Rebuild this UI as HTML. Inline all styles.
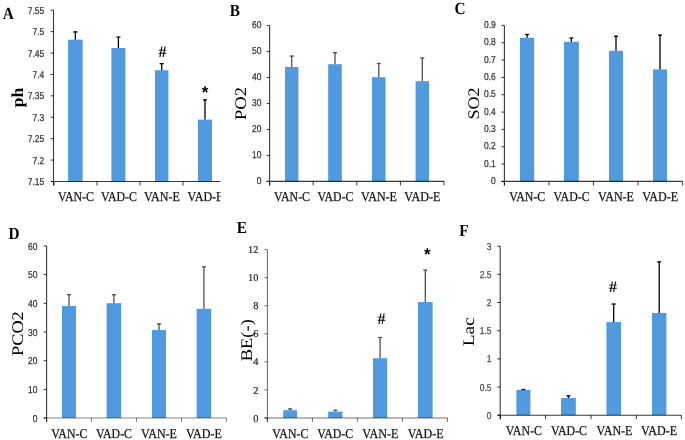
<!DOCTYPE html><html><head><meta charset="utf-8"><style>html,body{margin:0;padding:0;background:#fff;overflow:hidden;width:685px;height:440px;}svg{display:block;}text{filter:grayscale(1);}svg{text-rendering:geometricPrecision;}</style></head><body>
<svg width="685" height="440" viewBox="0 0 685 440">
<rect width="685" height="440" fill="#fff"/>
<defs><clipPath id="clipA"><rect x="0" y="0" width="220.4" height="220"/></clipPath></defs>
<text transform="translate(2.8000000000000003,19.4) scale(0.9,1)" font-family="Liberation Serif, serif" font-weight="bold" font-size="17" fill="#000">A</text>
<text transform="translate(17.4,97.6) rotate(-90)" x="0" y="0" dy="0.33em" text-anchor="middle" font-family="Liberation Serif, serif" font-weight="bold" font-size="16.8" textLength="19.8" lengthAdjust="spacingAndGlyphs" fill="#000">ph</text>
<line x1="50.5" y1="10.20" x2="53.5" y2="10.20" stroke="rgba(0,0,0,0.78)" stroke-width="1"/>
<text x="44.30" y="13.70" text-anchor="end" font-family="Liberation Sans, sans-serif" font-size="10" textLength="16.49" lengthAdjust="spacingAndGlyphs" fill="#333" stroke="#333" stroke-width="0.25">7.55</text>
<line x1="50.5" y1="31.61" x2="53.5" y2="31.61" stroke="rgba(0,0,0,0.78)" stroke-width="1"/>
<text x="44.30" y="35.11" text-anchor="end" font-family="Liberation Sans, sans-serif" font-size="10" textLength="11.77" lengthAdjust="spacingAndGlyphs" fill="#333" stroke="#333" stroke-width="0.25">7.5</text>
<line x1="50.5" y1="53.03" x2="53.5" y2="53.03" stroke="rgba(0,0,0,0.78)" stroke-width="1"/>
<text x="44.30" y="56.53" text-anchor="end" font-family="Liberation Sans, sans-serif" font-size="10" textLength="16.49" lengthAdjust="spacingAndGlyphs" fill="#333" stroke="#333" stroke-width="0.25">7.45</text>
<line x1="50.5" y1="74.44" x2="53.5" y2="74.44" stroke="rgba(0,0,0,0.78)" stroke-width="1"/>
<text x="44.30" y="77.94" text-anchor="end" font-family="Liberation Sans, sans-serif" font-size="10" textLength="11.77" lengthAdjust="spacingAndGlyphs" fill="#333" stroke="#333" stroke-width="0.25">7.4</text>
<line x1="50.5" y1="95.85" x2="53.5" y2="95.85" stroke="rgba(0,0,0,0.78)" stroke-width="1"/>
<text x="44.30" y="99.35" text-anchor="end" font-family="Liberation Sans, sans-serif" font-size="10" textLength="16.49" lengthAdjust="spacingAndGlyphs" fill="#333" stroke="#333" stroke-width="0.25">7.35</text>
<line x1="50.5" y1="117.26" x2="53.5" y2="117.26" stroke="rgba(0,0,0,0.78)" stroke-width="1"/>
<text x="44.30" y="120.76" text-anchor="end" font-family="Liberation Sans, sans-serif" font-size="10" textLength="11.77" lengthAdjust="spacingAndGlyphs" fill="#333" stroke="#333" stroke-width="0.25">7.3</text>
<line x1="50.5" y1="138.68" x2="53.5" y2="138.68" stroke="rgba(0,0,0,0.78)" stroke-width="1"/>
<text x="44.30" y="142.18" text-anchor="end" font-family="Liberation Sans, sans-serif" font-size="10" textLength="16.49" lengthAdjust="spacingAndGlyphs" fill="#333" stroke="#333" stroke-width="0.25">7.25</text>
<line x1="50.5" y1="160.09" x2="53.5" y2="160.09" stroke="rgba(0,0,0,0.78)" stroke-width="1"/>
<text x="44.30" y="163.59" text-anchor="end" font-family="Liberation Sans, sans-serif" font-size="10" textLength="11.77" lengthAdjust="spacingAndGlyphs" fill="#333" stroke="#333" stroke-width="0.25">7.2</text>
<line x1="50.5" y1="181.50" x2="53.5" y2="181.50" stroke="rgba(0,0,0,0.78)" stroke-width="1"/>
<text x="44.30" y="185.00" text-anchor="end" font-family="Liberation Sans, sans-serif" font-size="10" textLength="16.49" lengthAdjust="spacingAndGlyphs" fill="#333" stroke="#333" stroke-width="0.25">7.15</text>
<g clip-path="url(#clipA)">
<rect x="68.1" y="39.7" width="14.50" height="141.80" fill="rgb(81,154,223)"/>
<line x1="75.35" y1="39.7" x2="75.35" y2="31.5" stroke="black" stroke-width="1.3"/>
<line x1="73.35" y1="32.0" x2="77.35" y2="32.0" stroke="black" stroke-width="1.3"/>
<rect x="111.4" y="48" width="14.00" height="133.50" fill="rgb(81,154,223)"/>
<line x1="118.40" y1="48" x2="118.40" y2="36.6" stroke="black" stroke-width="1.3"/>
<line x1="116.40" y1="37.1" x2="120.40" y2="37.1" stroke="black" stroke-width="1.3"/>
<rect x="155" y="70.2" width="13.40" height="111.30" fill="rgb(81,154,223)"/>
<line x1="161.70" y1="70.2" x2="161.70" y2="63.2" stroke="black" stroke-width="1.3"/>
<line x1="159.70" y1="63.7" x2="163.70" y2="63.7" stroke="black" stroke-width="1.3"/>
<rect x="198" y="119.6" width="14.00" height="61.90" fill="rgb(81,154,223)"/>
<line x1="205.00" y1="119.6" x2="205.00" y2="99.4" stroke="black" stroke-width="1.3"/>
<line x1="203.00" y1="99.9" x2="207.00" y2="99.9" stroke="black" stroke-width="1.3"/>
<line x1="53.5" y1="10.2" x2="53.5" y2="185.5" stroke="rgba(0,0,0,0.78)" stroke-width="1.1"/>
<line x1="51" y1="181.5" x2="226" y2="181.5" stroke="rgba(0,0,0,0.78)" stroke-width="1.1"/>
<line x1="54" y1="181.5" x2="54" y2="185.5" stroke="rgba(0,0,0,0.78)" stroke-width="1"/>
<line x1="97" y1="181.5" x2="97" y2="185.5" stroke="rgba(0,0,0,0.78)" stroke-width="1"/>
<line x1="140" y1="181.5" x2="140" y2="185.5" stroke="rgba(0,0,0,0.78)" stroke-width="1"/>
<line x1="183" y1="181.5" x2="183" y2="185.5" stroke="rgba(0,0,0,0.78)" stroke-width="1"/>
<line x1="226" y1="181.5" x2="226" y2="185.5" stroke="rgba(0,0,0,0.78)" stroke-width="1"/>
<text x="75.9" y="201.2" text-anchor="middle" font-family="Liberation Serif, serif" font-size="13.5" textLength="36" lengthAdjust="spacingAndGlyphs" fill="#111" stroke="#111" stroke-width="0.25">VAN-C</text>
<text x="118.9" y="201.2" text-anchor="middle" font-family="Liberation Serif, serif" font-size="13.5" textLength="36" lengthAdjust="spacingAndGlyphs" fill="#111" stroke="#111" stroke-width="0.25">VAD-C</text>
<text x="161.9" y="201.2" text-anchor="middle" font-family="Liberation Serif, serif" font-size="13.5" textLength="36" lengthAdjust="spacingAndGlyphs" fill="#111" stroke="#111" stroke-width="0.25">VAN-E</text>
<text x="205.5" y="201.2" text-anchor="middle" font-family="Liberation Serif, serif" font-size="13.5" textLength="36" lengthAdjust="spacingAndGlyphs" fill="#111" stroke="#111" stroke-width="0.25">VAD-E</text>
<text x="162.5" y="56.6" text-anchor="middle" font-family="Liberation Serif, serif" font-weight="bold" font-size="16" fill="#000">#</text>
<text x="205.1" y="97.7" text-anchor="middle" font-family="Liberation Sans, sans-serif" font-weight="bold" font-size="17" fill="#000">*</text>
</g>
<text transform="translate(229.7,15.7) scale(0.9,1)" font-family="Liberation Serif, serif" font-weight="bold" font-size="17" fill="#000">B</text>
<text transform="translate(240.45,103.5) rotate(-90)" x="0" y="0" dy="0.33em" text-anchor="middle" font-family="Liberation Serif, serif" font-weight="normal" font-size="16.2" textLength="33" lengthAdjust="spacingAndGlyphs" fill="#000">PO2</text>
<line x1="266.6" y1="25.40" x2="269.6" y2="25.40" stroke="rgba(0,0,0,0.78)" stroke-width="1"/>
<text x="261.50" y="28.10" text-anchor="end" font-family="Liberation Sans, sans-serif" font-size="10" textLength="9.43" lengthAdjust="spacingAndGlyphs" fill="#333" stroke="#333" stroke-width="0.25">60</text>
<line x1="266.6" y1="51.40" x2="269.6" y2="51.40" stroke="rgba(0,0,0,0.78)" stroke-width="1"/>
<text x="261.50" y="54.10" text-anchor="end" font-family="Liberation Sans, sans-serif" font-size="10" textLength="9.43" lengthAdjust="spacingAndGlyphs" fill="#333" stroke="#333" stroke-width="0.25">50</text>
<line x1="266.6" y1="77.40" x2="269.6" y2="77.40" stroke="rgba(0,0,0,0.78)" stroke-width="1"/>
<text x="261.50" y="80.10" text-anchor="end" font-family="Liberation Sans, sans-serif" font-size="10" textLength="9.43" lengthAdjust="spacingAndGlyphs" fill="#333" stroke="#333" stroke-width="0.25">40</text>
<line x1="266.6" y1="103.40" x2="269.6" y2="103.40" stroke="rgba(0,0,0,0.78)" stroke-width="1"/>
<text x="261.50" y="106.10" text-anchor="end" font-family="Liberation Sans, sans-serif" font-size="10" textLength="9.43" lengthAdjust="spacingAndGlyphs" fill="#333" stroke="#333" stroke-width="0.25">30</text>
<line x1="266.6" y1="129.40" x2="269.6" y2="129.40" stroke="rgba(0,0,0,0.78)" stroke-width="1"/>
<text x="261.50" y="132.10" text-anchor="end" font-family="Liberation Sans, sans-serif" font-size="10" textLength="9.43" lengthAdjust="spacingAndGlyphs" fill="#333" stroke="#333" stroke-width="0.25">20</text>
<line x1="266.6" y1="155.40" x2="269.6" y2="155.40" stroke="rgba(0,0,0,0.78)" stroke-width="1"/>
<text x="261.50" y="158.10" text-anchor="end" font-family="Liberation Sans, sans-serif" font-size="10" textLength="9.43" lengthAdjust="spacingAndGlyphs" fill="#333" stroke="#333" stroke-width="0.25">10</text>
<line x1="266.6" y1="181.40" x2="269.6" y2="181.40" stroke="rgba(0,0,0,0.78)" stroke-width="1"/>
<text x="261.50" y="184.10" text-anchor="end" font-family="Liberation Sans, sans-serif" font-size="10" textLength="4.72" lengthAdjust="spacingAndGlyphs" fill="#333" stroke="#333" stroke-width="0.25">0</text>
<g>
<rect x="285" y="67" width="13.40" height="114.40" fill="rgb(81,154,223)"/>
<line x1="291.70" y1="67" x2="291.70" y2="55.6" stroke="#505050" stroke-width="1.3"/>
<line x1="289.70" y1="56.1" x2="293.70" y2="56.1" stroke="#505050" stroke-width="1.3"/>
<rect x="328.2" y="64.2" width="13.60" height="117.20" fill="rgb(81,154,223)"/>
<line x1="335.00" y1="64.2" x2="335.00" y2="52.2" stroke="#505050" stroke-width="1.3"/>
<line x1="333.00" y1="52.7" x2="337.00" y2="52.7" stroke="#505050" stroke-width="1.3"/>
<rect x="372" y="77.2" width="13.60" height="104.20" fill="rgb(81,154,223)"/>
<line x1="378.80" y1="77.2" x2="378.80" y2="63" stroke="#505050" stroke-width="1.3"/>
<line x1="376.80" y1="63.5" x2="380.80" y2="63.5" stroke="#505050" stroke-width="1.3"/>
<rect x="415.6" y="81.2" width="13.40" height="100.20" fill="rgb(81,154,223)"/>
<line x1="422.30" y1="81.2" x2="422.30" y2="57.6" stroke="#505050" stroke-width="1.3"/>
<line x1="420.30" y1="58.1" x2="424.30" y2="58.1" stroke="#505050" stroke-width="1.3"/>
<line x1="269.6" y1="25.4" x2="269.6" y2="185.4" stroke="rgba(0,0,0,0.78)" stroke-width="1.1"/>
<line x1="266.6" y1="181.4" x2="444" y2="181.4" stroke="rgba(0,0,0,0.78)" stroke-width="1.1"/>
<line x1="269.6" y1="181.4" x2="269.6" y2="185.4" stroke="rgba(0,0,0,0.78)" stroke-width="1"/>
<line x1="313.2" y1="181.4" x2="313.2" y2="185.4" stroke="rgba(0,0,0,0.78)" stroke-width="1"/>
<line x1="356.8" y1="181.4" x2="356.8" y2="185.4" stroke="rgba(0,0,0,0.78)" stroke-width="1"/>
<line x1="400.4" y1="181.4" x2="400.4" y2="185.4" stroke="rgba(0,0,0,0.78)" stroke-width="1"/>
<line x1="444" y1="181.4" x2="444" y2="185.4" stroke="rgba(0,0,0,0.78)" stroke-width="1"/>
<text x="292" y="201.2" text-anchor="middle" font-family="Liberation Serif, serif" font-size="13.5" textLength="36" lengthAdjust="spacingAndGlyphs" fill="#111" stroke="#111" stroke-width="0.25">VAN-C</text>
<text x="335.5" y="201.2" text-anchor="middle" font-family="Liberation Serif, serif" font-size="13.5" textLength="36" lengthAdjust="spacingAndGlyphs" fill="#111" stroke="#111" stroke-width="0.25">VAD-C</text>
<text x="379" y="201.2" text-anchor="middle" font-family="Liberation Serif, serif" font-size="13.5" textLength="36" lengthAdjust="spacingAndGlyphs" fill="#111" stroke="#111" stroke-width="0.25">VAN-E</text>
<text x="422.3" y="201.2" text-anchor="middle" font-family="Liberation Serif, serif" font-size="13.5" textLength="36" lengthAdjust="spacingAndGlyphs" fill="#111" stroke="#111" stroke-width="0.25">VAD-E</text>
</g>
<text transform="translate(454.59999999999997,14.0) scale(0.9,1)" font-family="Liberation Serif, serif" font-weight="bold" font-size="17" fill="#000">C</text>
<text transform="translate(473.3,103.6) rotate(-90)" x="0" y="0" dy="0.33em" text-anchor="middle" font-family="Liberation Serif, serif" font-weight="normal" font-size="16.2" textLength="32" lengthAdjust="spacingAndGlyphs" fill="#000">SO2</text>
<line x1="501.4" y1="25.40" x2="504.4" y2="25.40" stroke="rgba(0,0,0,0.78)" stroke-width="1"/>
<text x="495.80" y="28.10" text-anchor="end" font-family="Liberation Sans, sans-serif" font-size="10" textLength="11.77" lengthAdjust="spacingAndGlyphs" fill="#333" stroke="#333" stroke-width="0.25">0.9</text>
<line x1="501.4" y1="42.73" x2="504.4" y2="42.73" stroke="rgba(0,0,0,0.78)" stroke-width="1"/>
<text x="495.80" y="45.43" text-anchor="end" font-family="Liberation Sans, sans-serif" font-size="10" textLength="11.77" lengthAdjust="spacingAndGlyphs" fill="#333" stroke="#333" stroke-width="0.25">0.8</text>
<line x1="501.4" y1="60.07" x2="504.4" y2="60.07" stroke="rgba(0,0,0,0.78)" stroke-width="1"/>
<text x="495.80" y="62.77" text-anchor="end" font-family="Liberation Sans, sans-serif" font-size="10" textLength="11.77" lengthAdjust="spacingAndGlyphs" fill="#333" stroke="#333" stroke-width="0.25">0.7</text>
<line x1="501.4" y1="77.40" x2="504.4" y2="77.40" stroke="rgba(0,0,0,0.78)" stroke-width="1"/>
<text x="495.80" y="80.10" text-anchor="end" font-family="Liberation Sans, sans-serif" font-size="10" textLength="11.77" lengthAdjust="spacingAndGlyphs" fill="#333" stroke="#333" stroke-width="0.25">0.6</text>
<line x1="501.4" y1="94.73" x2="504.4" y2="94.73" stroke="rgba(0,0,0,0.78)" stroke-width="1"/>
<text x="495.80" y="97.43" text-anchor="end" font-family="Liberation Sans, sans-serif" font-size="10" textLength="11.77" lengthAdjust="spacingAndGlyphs" fill="#333" stroke="#333" stroke-width="0.25">0.5</text>
<line x1="501.4" y1="112.07" x2="504.4" y2="112.07" stroke="rgba(0,0,0,0.78)" stroke-width="1"/>
<text x="495.80" y="114.77" text-anchor="end" font-family="Liberation Sans, sans-serif" font-size="10" textLength="11.77" lengthAdjust="spacingAndGlyphs" fill="#333" stroke="#333" stroke-width="0.25">0.4</text>
<line x1="501.4" y1="129.40" x2="504.4" y2="129.40" stroke="rgba(0,0,0,0.78)" stroke-width="1"/>
<text x="495.80" y="132.10" text-anchor="end" font-family="Liberation Sans, sans-serif" font-size="10" textLength="11.77" lengthAdjust="spacingAndGlyphs" fill="#333" stroke="#333" stroke-width="0.25">0.3</text>
<line x1="501.4" y1="146.73" x2="504.4" y2="146.73" stroke="rgba(0,0,0,0.78)" stroke-width="1"/>
<text x="495.80" y="149.43" text-anchor="end" font-family="Liberation Sans, sans-serif" font-size="10" textLength="11.77" lengthAdjust="spacingAndGlyphs" fill="#333" stroke="#333" stroke-width="0.25">0.2</text>
<line x1="501.4" y1="164.07" x2="504.4" y2="164.07" stroke="rgba(0,0,0,0.78)" stroke-width="1"/>
<text x="495.80" y="166.77" text-anchor="end" font-family="Liberation Sans, sans-serif" font-size="10" textLength="11.77" lengthAdjust="spacingAndGlyphs" fill="#333" stroke="#333" stroke-width="0.25">0.1</text>
<line x1="501.4" y1="181.40" x2="504.4" y2="181.40" stroke="rgba(0,0,0,0.78)" stroke-width="1"/>
<text x="495.80" y="184.10" text-anchor="end" font-family="Liberation Sans, sans-serif" font-size="10" textLength="4.72" lengthAdjust="spacingAndGlyphs" fill="#333" stroke="#333" stroke-width="0.25">0</text>
<g>
<rect x="520" y="37.8" width="14.20" height="143.60" fill="rgb(81,154,223)"/>
<line x1="527.10" y1="37.8" x2="527.10" y2="34" stroke="black" stroke-width="1.3"/>
<line x1="525.10" y1="34.5" x2="529.10" y2="34.5" stroke="black" stroke-width="1.3"/>
<rect x="564" y="41.8" width="14.80" height="139.60" fill="rgb(81,154,223)"/>
<line x1="571.40" y1="41.8" x2="571.40" y2="37.6" stroke="black" stroke-width="1.3"/>
<line x1="569.40" y1="38.1" x2="573.40" y2="38.1" stroke="black" stroke-width="1.3"/>
<rect x="609" y="50.8" width="14.00" height="130.60" fill="rgb(81,154,223)"/>
<line x1="616.00" y1="50.8" x2="616.00" y2="35.8" stroke="black" stroke-width="1.3"/>
<line x1="614.00" y1="36.3" x2="618.00" y2="36.3" stroke="black" stroke-width="1.3"/>
<rect x="653" y="69.4" width="14.00" height="112.00" fill="rgb(81,154,223)"/>
<line x1="660.00" y1="69.4" x2="660.00" y2="34.6" stroke="black" stroke-width="1.3"/>
<line x1="658.00" y1="35.1" x2="662.00" y2="35.1" stroke="black" stroke-width="1.3"/>
<line x1="504.4" y1="25.4" x2="504.4" y2="185.4" stroke="rgba(0,0,0,0.78)" stroke-width="1.1"/>
<line x1="501.4" y1="181.4" x2="682.6" y2="181.4" stroke="rgba(0,0,0,0.78)" stroke-width="1.1"/>
<line x1="504.4" y1="181.4" x2="504.4" y2="185.4" stroke="rgba(0,0,0,0.78)" stroke-width="1"/>
<line x1="549" y1="181.4" x2="549" y2="185.4" stroke="rgba(0,0,0,0.78)" stroke-width="1"/>
<line x1="593.5" y1="181.4" x2="593.5" y2="185.4" stroke="rgba(0,0,0,0.78)" stroke-width="1"/>
<line x1="638" y1="181.4" x2="638" y2="185.4" stroke="rgba(0,0,0,0.78)" stroke-width="1"/>
<line x1="682.6" y1="181.4" x2="682.6" y2="185.4" stroke="rgba(0,0,0,0.78)" stroke-width="1"/>
<text x="527.2" y="201.2" text-anchor="middle" font-family="Liberation Serif, serif" font-size="13.5" textLength="36" lengthAdjust="spacingAndGlyphs" fill="#111" stroke="#111" stroke-width="0.25">VAN-C</text>
<text x="571.6" y="201.2" text-anchor="middle" font-family="Liberation Serif, serif" font-size="13.5" textLength="36" lengthAdjust="spacingAndGlyphs" fill="#111" stroke="#111" stroke-width="0.25">VAD-C</text>
<text x="616" y="201.2" text-anchor="middle" font-family="Liberation Serif, serif" font-size="13.5" textLength="36" lengthAdjust="spacingAndGlyphs" fill="#111" stroke="#111" stroke-width="0.25">VAN-E</text>
<text x="660.2" y="201.2" text-anchor="middle" font-family="Liberation Serif, serif" font-size="13.5" textLength="36" lengthAdjust="spacingAndGlyphs" fill="#111" stroke="#111" stroke-width="0.25">VAD-E</text>
</g>
<text transform="translate(8.6,238.6) scale(0.9,1)" font-family="Liberation Serif, serif" font-weight="bold" font-size="17" fill="#000">D</text>
<text transform="translate(17.15,333.6) rotate(-90)" x="0" y="0" dy="0.33em" text-anchor="middle" font-family="Liberation Serif, serif" font-weight="normal" font-size="16.2" textLength="44.6" lengthAdjust="spacingAndGlyphs" fill="#000">PCO2</text>
<line x1="43.6" y1="246.00" x2="46.6" y2="246.00" stroke="rgba(0,0,0,0.78)" stroke-width="1"/>
<text x="37.40" y="249.50" text-anchor="end" font-family="Liberation Sans, sans-serif" font-size="10" textLength="9.43" lengthAdjust="spacingAndGlyphs" fill="#333" stroke="#333" stroke-width="0.25">60</text>
<line x1="43.6" y1="274.67" x2="46.6" y2="274.67" stroke="rgba(0,0,0,0.78)" stroke-width="1"/>
<text x="37.40" y="278.17" text-anchor="end" font-family="Liberation Sans, sans-serif" font-size="10" textLength="9.43" lengthAdjust="spacingAndGlyphs" fill="#333" stroke="#333" stroke-width="0.25">50</text>
<line x1="43.6" y1="303.33" x2="46.6" y2="303.33" stroke="rgba(0,0,0,0.78)" stroke-width="1"/>
<text x="37.40" y="306.83" text-anchor="end" font-family="Liberation Sans, sans-serif" font-size="10" textLength="9.43" lengthAdjust="spacingAndGlyphs" fill="#333" stroke="#333" stroke-width="0.25">40</text>
<line x1="43.6" y1="332.00" x2="46.6" y2="332.00" stroke="rgba(0,0,0,0.78)" stroke-width="1"/>
<text x="37.40" y="335.50" text-anchor="end" font-family="Liberation Sans, sans-serif" font-size="10" textLength="9.43" lengthAdjust="spacingAndGlyphs" fill="#333" stroke="#333" stroke-width="0.25">30</text>
<line x1="43.6" y1="360.67" x2="46.6" y2="360.67" stroke="rgba(0,0,0,0.78)" stroke-width="1"/>
<text x="37.40" y="364.17" text-anchor="end" font-family="Liberation Sans, sans-serif" font-size="10" textLength="9.43" lengthAdjust="spacingAndGlyphs" fill="#333" stroke="#333" stroke-width="0.25">20</text>
<line x1="43.6" y1="389.33" x2="46.6" y2="389.33" stroke="rgba(0,0,0,0.78)" stroke-width="1"/>
<text x="37.40" y="392.83" text-anchor="end" font-family="Liberation Sans, sans-serif" font-size="10" textLength="9.43" lengthAdjust="spacingAndGlyphs" fill="#333" stroke="#333" stroke-width="0.25">10</text>
<line x1="43.6" y1="418.00" x2="46.6" y2="418.00" stroke="rgba(0,0,0,0.78)" stroke-width="1"/>
<text x="37.40" y="421.50" text-anchor="end" font-family="Liberation Sans, sans-serif" font-size="10" textLength="4.72" lengthAdjust="spacingAndGlyphs" fill="#333" stroke="#333" stroke-width="0.25">0</text>
<g>
<rect x="62" y="306" width="14.00" height="112.00" fill="rgb(81,154,223)"/>
<line x1="69.00" y1="306" x2="69.00" y2="294.2" stroke="#505050" stroke-width="1.3"/>
<line x1="67.00" y1="294.7" x2="71.00" y2="294.7" stroke="#505050" stroke-width="1.3"/>
<rect x="106.6" y="303.2" width="14.60" height="114.80" fill="rgb(81,154,223)"/>
<line x1="113.90" y1="303.2" x2="113.90" y2="294.2" stroke="#505050" stroke-width="1.3"/>
<line x1="111.90" y1="294.7" x2="115.90" y2="294.7" stroke="#505050" stroke-width="1.3"/>
<rect x="152" y="330" width="14.00" height="88.00" fill="rgb(81,154,223)"/>
<line x1="159.00" y1="330" x2="159.00" y2="323.4" stroke="#505050" stroke-width="1.3"/>
<line x1="157.00" y1="323.9" x2="161.00" y2="323.9" stroke="#505050" stroke-width="1.3"/>
<rect x="196.6" y="308.8" width="14.60" height="109.20" fill="rgb(81,154,223)"/>
<line x1="203.90" y1="308.8" x2="203.90" y2="266.4" stroke="#505050" stroke-width="1.3"/>
<line x1="201.90" y1="266.9" x2="205.90" y2="266.9" stroke="#505050" stroke-width="1.3"/>
<line x1="46.6" y1="246" x2="46.6" y2="422" stroke="rgba(0,0,0,0.78)" stroke-width="1.1"/>
<line x1="43.6" y1="418" x2="226.4" y2="418" stroke="rgba(0,0,0,0.48)" stroke-width="1.1"/>
<line x1="46.6" y1="418" x2="46.6" y2="422" stroke="rgba(0,0,0,0.48)" stroke-width="1"/>
<line x1="91.5" y1="418" x2="91.5" y2="422" stroke="rgba(0,0,0,0.48)" stroke-width="1"/>
<line x1="136.5" y1="418" x2="136.5" y2="422" stroke="rgba(0,0,0,0.48)" stroke-width="1"/>
<line x1="181.5" y1="418" x2="181.5" y2="422" stroke="rgba(0,0,0,0.48)" stroke-width="1"/>
<line x1="226.4" y1="418" x2="226.4" y2="422" stroke="rgba(0,0,0,0.48)" stroke-width="1"/>
<text x="69.3" y="437.6" text-anchor="middle" font-family="Liberation Serif, serif" font-size="13.5" textLength="36" lengthAdjust="spacingAndGlyphs" fill="#111" stroke="#111" stroke-width="0.25">VAN-C</text>
<text x="114" y="437.6" text-anchor="middle" font-family="Liberation Serif, serif" font-size="13.5" textLength="36" lengthAdjust="spacingAndGlyphs" fill="#111" stroke="#111" stroke-width="0.25">VAD-C</text>
<text x="159" y="437.6" text-anchor="middle" font-family="Liberation Serif, serif" font-size="13.5" textLength="36" lengthAdjust="spacingAndGlyphs" fill="#111" stroke="#111" stroke-width="0.25">VAN-E</text>
<text x="203.9" y="437.6" text-anchor="middle" font-family="Liberation Serif, serif" font-size="13.5" textLength="36" lengthAdjust="spacingAndGlyphs" fill="#111" stroke="#111" stroke-width="0.25">VAD-E</text>
</g>
<text transform="translate(236.79999999999998,232.5) scale(0.9,1)" font-family="Liberation Serif, serif" font-weight="bold" font-size="17" fill="#000">E</text>
<text transform="translate(246.7,340.2) rotate(-90)" x="0" y="0" dy="0.33em" text-anchor="middle" font-family="Liberation Serif, serif" font-weight="normal" font-size="16.2" textLength="42" lengthAdjust="spacingAndGlyphs" fill="#000">BE(-)</text>
<line x1="264.4" y1="249.60" x2="267.4" y2="249.60" stroke="rgba(0,0,0,0.56)" stroke-width="1"/>
<text x="258.5" y="253.20" text-anchor="end" font-family="Liberation Serif, serif" font-size="10.4" fill="#222" stroke="#222" stroke-width="0.2">12</text>
<line x1="264.4" y1="277.67" x2="267.4" y2="277.67" stroke="rgba(0,0,0,0.56)" stroke-width="1"/>
<text x="258.5" y="281.27" text-anchor="end" font-family="Liberation Serif, serif" font-size="10.4" fill="#222" stroke="#222" stroke-width="0.2">10</text>
<line x1="264.4" y1="305.73" x2="267.4" y2="305.73" stroke="rgba(0,0,0,0.56)" stroke-width="1"/>
<text x="258.5" y="309.33" text-anchor="end" font-family="Liberation Serif, serif" font-size="10.4" fill="#222" stroke="#222" stroke-width="0.2">8</text>
<line x1="264.4" y1="333.80" x2="267.4" y2="333.80" stroke="rgba(0,0,0,0.56)" stroke-width="1"/>
<text x="258.5" y="337.40" text-anchor="end" font-family="Liberation Serif, serif" font-size="10.4" fill="#222" stroke="#222" stroke-width="0.2">6</text>
<line x1="264.4" y1="361.87" x2="267.4" y2="361.87" stroke="rgba(0,0,0,0.56)" stroke-width="1"/>
<text x="258.5" y="365.47" text-anchor="end" font-family="Liberation Serif, serif" font-size="10.4" fill="#222" stroke="#222" stroke-width="0.2">4</text>
<line x1="264.4" y1="389.93" x2="267.4" y2="389.93" stroke="rgba(0,0,0,0.56)" stroke-width="1"/>
<text x="258.5" y="393.53" text-anchor="end" font-family="Liberation Serif, serif" font-size="10.4" fill="#222" stroke="#222" stroke-width="0.2">2</text>
<line x1="264.4" y1="418.00" x2="267.4" y2="418.00" stroke="rgba(0,0,0,0.56)" stroke-width="1"/>
<text x="258.5" y="421.60" text-anchor="end" font-family="Liberation Serif, serif" font-size="10.4" fill="#222" stroke="#222" stroke-width="0.2">0</text>
<g>
<rect x="283.2" y="410.2" width="13.80" height="7.80" fill="rgb(81,154,223)"/>
<line x1="290.10" y1="410.2" x2="290.10" y2="408.4" stroke="#505050" stroke-width="1.3"/>
<line x1="288.10" y1="408.9" x2="292.10" y2="408.9" stroke="#505050" stroke-width="1.3"/>
<rect x="328.2" y="411.6" width="14.20" height="6.40" fill="rgb(81,154,223)"/>
<line x1="335.30" y1="411.6" x2="335.30" y2="409.8" stroke="#505050" stroke-width="1.3"/>
<line x1="333.30" y1="410.3" x2="337.30" y2="410.3" stroke="#505050" stroke-width="1.3"/>
<rect x="373" y="358.2" width="14.20" height="59.80" fill="rgb(81,154,223)"/>
<line x1="380.10" y1="358.2" x2="380.10" y2="337" stroke="#505050" stroke-width="1.3"/>
<line x1="378.10" y1="337.5" x2="382.10" y2="337.5" stroke="#505050" stroke-width="1.3"/>
<rect x="418" y="302" width="14.60" height="116.00" fill="rgb(81,154,223)"/>
<line x1="425.30" y1="302" x2="425.30" y2="269.6" stroke="#505050" stroke-width="1.3"/>
<line x1="423.30" y1="270.1" x2="427.30" y2="270.1" stroke="#505050" stroke-width="1.3"/>
<line x1="267.4" y1="249.6" x2="267.4" y2="422" stroke="rgba(0,0,0,0.56)" stroke-width="1.1"/>
<line x1="264.4" y1="418" x2="447.4" y2="418" stroke="rgba(0,0,0,0.56)" stroke-width="1.1"/>
<line x1="267.4" y1="418" x2="267.4" y2="422" stroke="rgba(0,0,0,0.56)" stroke-width="1"/>
<line x1="312.4" y1="418" x2="312.4" y2="422" stroke="rgba(0,0,0,0.56)" stroke-width="1"/>
<line x1="357.4" y1="418" x2="357.4" y2="422" stroke="rgba(0,0,0,0.56)" stroke-width="1"/>
<line x1="402.4" y1="418" x2="402.4" y2="422" stroke="rgba(0,0,0,0.56)" stroke-width="1"/>
<line x1="447.4" y1="418" x2="447.4" y2="422" stroke="rgba(0,0,0,0.56)" stroke-width="1"/>
<text x="290.3" y="437.6" text-anchor="middle" font-family="Liberation Serif, serif" font-size="13.5" textLength="36" lengthAdjust="spacingAndGlyphs" fill="#111" stroke="#111" stroke-width="0.25">VAN-C</text>
<text x="335.2" y="437.6" text-anchor="middle" font-family="Liberation Serif, serif" font-size="13.5" textLength="36" lengthAdjust="spacingAndGlyphs" fill="#111" stroke="#111" stroke-width="0.25">VAD-C</text>
<text x="380.3" y="437.6" text-anchor="middle" font-family="Liberation Serif, serif" font-size="13.5" textLength="36" lengthAdjust="spacingAndGlyphs" fill="#111" stroke="#111" stroke-width="0.25">VAN-E</text>
<text x="425.7" y="437.6" text-anchor="middle" font-family="Liberation Serif, serif" font-size="13.5" textLength="36" lengthAdjust="spacingAndGlyphs" fill="#111" stroke="#111" stroke-width="0.25">VAD-E</text>
<text x="381.6" y="323.8" text-anchor="middle" font-family="Liberation Serif, serif" font-weight="bold" font-size="16" fill="#000">#</text>
<text x="427.4" y="259.5" text-anchor="middle" font-family="Liberation Sans, sans-serif" font-weight="bold" font-size="17" fill="#000">*</text>
</g>
<text transform="translate(459.3,235.7) scale(0.9,1)" font-family="Liberation Serif, serif" font-weight="bold" font-size="17" fill="#000">F</text>
<text transform="translate(468.45,331.8) rotate(-90)" x="0" y="0" dy="0.33em" text-anchor="middle" font-family="Liberation Serif, serif" font-weight="normal" font-size="16.2" textLength="29" lengthAdjust="spacingAndGlyphs" fill="#000">Lac</text>
<line x1="497.2" y1="246.20" x2="500.2" y2="246.20" stroke="rgba(0,0,0,0.78)" stroke-width="1"/>
<text x="491.50" y="249.70" text-anchor="end" font-family="Liberation Sans, sans-serif" font-size="10" textLength="4.72" lengthAdjust="spacingAndGlyphs" fill="#4a4a4a" stroke="#4a4a4a" stroke-width="0.25">3</text>
<line x1="497.2" y1="274.37" x2="500.2" y2="274.37" stroke="rgba(0,0,0,0.78)" stroke-width="1"/>
<text x="491.50" y="277.87" text-anchor="end" font-family="Liberation Sans, sans-serif" font-size="10" textLength="11.77" lengthAdjust="spacingAndGlyphs" fill="#4a4a4a" stroke="#4a4a4a" stroke-width="0.25">2.5</text>
<line x1="497.2" y1="302.53" x2="500.2" y2="302.53" stroke="rgba(0,0,0,0.78)" stroke-width="1"/>
<text x="491.50" y="306.03" text-anchor="end" font-family="Liberation Sans, sans-serif" font-size="10" textLength="4.72" lengthAdjust="spacingAndGlyphs" fill="#4a4a4a" stroke="#4a4a4a" stroke-width="0.25">2</text>
<line x1="497.2" y1="330.70" x2="500.2" y2="330.70" stroke="rgba(0,0,0,0.78)" stroke-width="1"/>
<text x="491.50" y="334.20" text-anchor="end" font-family="Liberation Sans, sans-serif" font-size="10" textLength="11.77" lengthAdjust="spacingAndGlyphs" fill="#4a4a4a" stroke="#4a4a4a" stroke-width="0.25">1.5</text>
<line x1="497.2" y1="358.87" x2="500.2" y2="358.87" stroke="rgba(0,0,0,0.78)" stroke-width="1"/>
<text x="491.50" y="362.37" text-anchor="end" font-family="Liberation Sans, sans-serif" font-size="10" textLength="4.72" lengthAdjust="spacingAndGlyphs" fill="#4a4a4a" stroke="#4a4a4a" stroke-width="0.25">1</text>
<line x1="497.2" y1="387.03" x2="500.2" y2="387.03" stroke="rgba(0,0,0,0.78)" stroke-width="1"/>
<text x="491.50" y="390.53" text-anchor="end" font-family="Liberation Sans, sans-serif" font-size="10" textLength="11.77" lengthAdjust="spacingAndGlyphs" fill="#4a4a4a" stroke="#4a4a4a" stroke-width="0.25">0.5</text>
<line x1="497.2" y1="415.20" x2="500.2" y2="415.20" stroke="rgba(0,0,0,0.78)" stroke-width="1"/>
<text x="491.50" y="418.70" text-anchor="end" font-family="Liberation Sans, sans-serif" font-size="10" textLength="4.72" lengthAdjust="spacingAndGlyphs" fill="#4a4a4a" stroke="#4a4a4a" stroke-width="0.25">0</text>
<g>
<rect x="516.4" y="390" width="14.00" height="25.20" fill="rgb(81,154,223)"/>
<line x1="523.40" y1="390" x2="523.40" y2="389" stroke="black" stroke-width="1.3"/>
<line x1="521.40" y1="389.5" x2="525.40" y2="389.5" stroke="black" stroke-width="1.3"/>
<rect x="561" y="398" width="14.80" height="17.20" fill="rgb(81,154,223)"/>
<line x1="568.40" y1="398" x2="568.40" y2="395.4" stroke="black" stroke-width="1.3"/>
<line x1="566.40" y1="395.9" x2="570.40" y2="395.9" stroke="black" stroke-width="1.3"/>
<rect x="606.4" y="322" width="14.60" height="93.20" fill="rgb(81,154,223)"/>
<line x1="613.70" y1="322" x2="613.70" y2="303.6" stroke="black" stroke-width="1.3"/>
<line x1="611.70" y1="304.1" x2="615.70" y2="304.1" stroke="black" stroke-width="1.3"/>
<rect x="652" y="313" width="14.40" height="102.20" fill="rgb(81,154,223)"/>
<line x1="659.20" y1="313" x2="659.20" y2="261.4" stroke="black" stroke-width="1.3"/>
<line x1="657.20" y1="261.9" x2="661.20" y2="261.9" stroke="black" stroke-width="1.3"/>
<line x1="500.2" y1="246.2" x2="500.2" y2="419.2" stroke="rgba(0,0,0,0.78)" stroke-width="1.1"/>
<line x1="497.4" y1="415.2" x2="681.4" y2="415.2" stroke="rgba(0,0,0,0.78)" stroke-width="1.1"/>
<line x1="500.4" y1="415.2" x2="500.4" y2="419.2" stroke="rgba(0,0,0,0.78)" stroke-width="1"/>
<line x1="545.6" y1="415.2" x2="545.6" y2="419.2" stroke="rgba(0,0,0,0.78)" stroke-width="1"/>
<line x1="591" y1="415.2" x2="591" y2="419.2" stroke="rgba(0,0,0,0.78)" stroke-width="1"/>
<line x1="636.4" y1="415.2" x2="636.4" y2="419.2" stroke="rgba(0,0,0,0.78)" stroke-width="1"/>
<line x1="681.4" y1="415.2" x2="681.4" y2="419.2" stroke="rgba(0,0,0,0.78)" stroke-width="1"/>
<text x="523.8" y="434.8" text-anchor="middle" font-family="Liberation Serif, serif" font-size="13.5" textLength="36" lengthAdjust="spacingAndGlyphs" fill="#111" stroke="#111" stroke-width="0.25">VAN-C</text>
<text x="569" y="434.8" text-anchor="middle" font-family="Liberation Serif, serif" font-size="13.5" textLength="36" lengthAdjust="spacingAndGlyphs" fill="#111" stroke="#111" stroke-width="0.25">VAD-C</text>
<text x="614.5" y="434.8" text-anchor="middle" font-family="Liberation Serif, serif" font-size="13.5" textLength="36" lengthAdjust="spacingAndGlyphs" fill="#111" stroke="#111" stroke-width="0.25">VAN-E</text>
<text x="659.1" y="434.8" text-anchor="middle" font-family="Liberation Serif, serif" font-size="13.5" textLength="36" lengthAdjust="spacingAndGlyphs" fill="#111" stroke="#111" stroke-width="0.25">VAD-E</text>
<text x="613" y="291.8" text-anchor="middle" font-family="Liberation Serif, serif" font-weight="bold" font-size="16" fill="#000">#</text>
</g>
</svg></body></html>
